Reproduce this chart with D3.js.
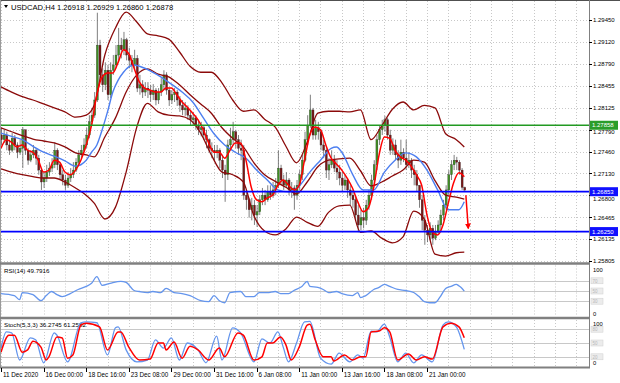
<!DOCTYPE html>
<meta charset="utf-8">
<title>USDCAD,H4</title>
<style>

body {
  margin: 0;
  background: #fff;
}

svg {
  display: block;
  font-family: "Liberation Sans", Arial, sans-serif;
}

</style>
<body>
<script src="https://cdn.jsdelivr.net/npm/d3@7"></script>
<script>

// ---- data ----
var header = "USDCAD,H4 1.26918 1.26929 1.26860 1.26878";
var firstOpen = 1.2771;

var closes = [1.2764,1.2771,1.2756,1.2748,1.2766,1.2756,1.2745,1.2751,1.2779,1.2748,
  1.2733,1.2741,1.2748,1.2736,1.2718,1.2700,1.2706,1.2715,1.2721,1.2726,
  1.2748,1.2726,1.2711,1.2703,1.2695,1.2706,1.2711,1.2718,1.2730,1.2741,
  1.2748,1.2756,1.2771,1.2791,1.2801,1.2824,1.2907,1.2862,1.2847,1.2869,
  1.2832,1.2869,1.2877,1.2892,1.2907,1.2900,1.2915,1.2892,1.2884,1.2877,
  1.2887,1.2842,1.2847,1.2836,1.2842,1.2839,1.2832,1.2839,1.2824,1.2836,
  1.2847,1.2862,1.2839,1.2824,1.2832,1.2836,1.2824,1.2816,1.2809,1.2812,
  1.2801,1.2794,1.2797,1.2786,1.2779,1.2782,1.2771,1.2764,1.2751,1.2748,
  1.2745,1.2748,1.2733,1.2718,1.2711,1.2756,1.2764,1.2776,1.2764,1.2751,
  1.2748,1.2680,1.2673,1.2658,1.2665,1.2650,1.2655,1.2673,1.2680,1.2673,
  1.2685,1.2680,1.2688,1.2695,1.2721,1.2703,1.2695,1.2703,1.2688,1.2691,
  1.2680,1.2695,1.2711,1.2733,1.2764,1.2786,1.2809,1.2771,1.2782,1.2776,
  1.2756,1.2748,1.2718,1.2726,1.2733,1.2721,1.2715,1.2706,1.2695,1.2703,
  1.2688,1.2680,1.2673,1.2650,1.2635,1.2646,1.2642,1.2665,1.2680,1.2703,
  1.2726,1.2764,1.2779,1.2786,1.2794,1.2771,1.2748,1.2756,1.2741,1.2733,
  1.2745,1.2736,1.2726,1.2733,1.2718,1.2711,1.2695,1.2673,1.2642,1.2627,
  1.2620,1.2630,1.2615,1.2624,1.2635,1.2650,1.2665,1.2688,1.2711,1.2726,
  1.2733,1.2730,1.2718,1.26918,1.26878];

var highs = [1.2782,1.2779,1.2776,1.2764,1.2774,1.2771,1.2760,1.2764,1.2783,1.2776,
  1.2751,1.2748,1.2756,1.2751,1.2741,1.2721,1.2715,1.2726,1.2730,1.2736,
  1.2760,1.2751,1.2730,1.2718,1.2711,1.2715,1.2721,1.2730,1.2736,1.2748,
  1.2756,1.2766,1.2782,1.2801,1.2812,1.2836,1.2956,1.2915,1.2872,1.2881,
  1.2877,1.2881,1.2892,1.2907,1.2933,1.2918,1.2927,1.2918,1.2903,1.2892,
  1.2900,1.2892,1.2862,1.2854,1.2851,1.2851,1.2847,1.2848,1.2842,1.2842,
  1.2857,1.2869,1.2866,1.2842,1.2839,1.2842,1.2839,1.2830,1.2824,1.2821,
  1.2816,1.2809,1.2806,1.2801,1.2794,1.2791,1.2786,1.2779,1.2766,1.2760,
  1.2756,1.2756,1.2751,1.2741,1.2726,1.2764,1.2782,1.2791,1.2779,1.2771,
  1.2764,1.2756,1.2688,1.2676,1.2676,1.2673,1.2665,1.2680,1.2691,1.2688,
  1.2695,1.2695,1.2700,1.2706,1.2748,1.2726,1.2711,1.2715,1.2706,1.2700,
  1.2695,1.2703,1.2718,1.2741,1.2776,1.2801,1.2832,1.2812,1.2794,1.2791,
  1.2779,1.2764,1.2751,1.2736,1.2748,1.2741,1.2733,1.2726,1.2715,1.2711,
  1.2706,1.2695,1.2688,1.2680,1.2665,1.2658,1.2661,1.2673,1.2688,1.2711,
  1.2733,1.2771,1.2786,1.2794,1.2800,1.2797,1.2779,1.2766,1.2764,1.2748,
  1.2764,1.2751,1.2764,1.2745,1.2736,1.2726,1.2718,1.2695,1.2680,1.2650,
  1.2635,1.2639,1.2635,1.2635,1.2642,1.2658,1.2673,1.2695,1.2718,1.2733,
  1.2741,1.2738,1.2733,1.2721,1.26929];

var lows = [1.2756,1.2759,1.2748,1.2741,1.2745,1.2748,1.2736,1.2741,1.2721,1.2741,
  1.2726,1.2730,1.2736,1.2726,1.2711,1.2688,1.2691,1.2700,1.2709,1.2715,
  1.2721,1.2718,1.2703,1.2695,1.2688,1.2691,1.2700,1.2706,1.2715,1.2726,
  1.2736,1.2745,1.2751,1.2766,1.2786,1.2797,1.2821,1.2854,1.2836,1.2839,
  1.2824,1.2827,1.2862,1.2872,1.2884,1.2887,1.2892,1.2884,1.2872,1.2866,
  1.2869,1.2836,1.2832,1.2827,1.2830,1.2827,1.2821,1.2824,1.2816,1.2818,
  1.2830,1.2839,1.2832,1.2815,1.2818,1.2821,1.2815,1.2806,1.2801,1.2800,
  1.2794,1.2786,1.2785,1.2779,1.2771,1.2769,1.2764,1.2751,1.2745,1.2736,
  1.2733,1.2736,1.2721,1.2706,1.2670,1.2703,1.2748,1.2756,1.2751,1.2741,
  1.2733,1.2673,1.2658,1.2646,1.2642,1.2635,1.2632,1.2650,1.2665,1.2665,
  1.2670,1.2673,1.2676,1.2680,1.2691,1.2695,1.2688,1.2691,1.2680,1.2676,
  1.2658,1.2673,1.2688,1.2703,1.2730,1.2756,1.2782,1.2764,1.2764,1.2764,
  1.2748,1.2736,1.2706,1.2703,1.2721,1.2715,1.2703,1.2695,1.2685,1.2688,
  1.2676,1.2665,1.2661,1.2642,1.2624,1.2627,1.2630,1.2635,1.2658,1.2673,
  1.2695,1.2718,1.2756,1.2771,1.2776,1.2764,1.2741,1.2741,1.2733,1.2721,
  1.2726,1.2730,1.2718,1.2721,1.2706,1.2695,1.2685,1.2661,1.2627,1.2605,
  1.2609,1.2612,1.2605,1.2612,1.2620,1.2627,1.2642,1.2658,1.2680,1.2703,
  1.2718,1.2718,1.2711,1.2688,1.26860];

// moving averages and bands: [bar, price]
var redMA = [[0,1.2751],[2,1.2764],[4,1.2760],[6,1.2753],[8,1.2756],[10,1.2748],[12,1.2745],[14,1.2733],
  [16,1.2715],[18,1.2718],[20,1.2733],[22,1.2730],[24,1.2715],[26,1.2711],[28,1.2718],[30,1.2733],
  [32,1.2756],[34,1.2786],[36,1.2832],[38,1.2859],[40,1.2865],[42,1.2865],[44,1.2881],[46,1.2900],
  [48,1.2894],[50,1.2872],[52,1.2851],[54,1.2842],[56,1.2839],[58,1.2836],[60,1.2836],[62,1.2842],
  [64,1.2842],[66,1.2832],[68,1.2821],[70,1.2813],[72,1.2804],[74,1.2794],[76,1.2779],[78,1.2759],
  [80,1.2745],[82,1.2745],[84,1.2736],[86,1.2748],[88,1.2759],[90,1.2759],[92,1.2733],[94,1.2692],
  [96,1.2673],[98,1.2670],[100,1.2676],[102,1.2680],[104,1.2695],[106,1.2703],[108,1.2695],[110,1.2688],
  [112,1.2695],[114,1.2733],[116,1.2771],[118,1.2783],[120,1.2779],[122,1.2756],[124,1.2736],[126,1.2727],
  [128,1.2718],[130,1.2706],[132,1.2691],[134,1.2670],[136,1.2655],[138,1.2661],[140,1.2692],[142,1.2741],
  [144,1.2768],[146,1.2766],[148,1.2748],[150,1.2738],[152,1.2733],[154,1.2724],[156,1.2711],[158,1.2695],
  [160,1.2650],[162,1.2624],[164,1.2620],[166,1.2635],[168,1.2668],[170,1.2699],[172,1.2714],[174,1.2708]];

var blueMA = [[0,1.2774],[4,1.2769],[8,1.2764],[12,1.2754],[16,1.2745],[20,1.2739],[24,1.2732],[28,1.2724],
  [32,1.2733],[34,1.2745],[36,1.2756],[38,1.2779],[40,1.2806],[42,1.2836],[44,1.2854],[46,1.2866],
  [48,1.2874],[50,1.2877],[52,1.2875],[54,1.2872],[56,1.2868],[60,1.2859],[64,1.2848],[68,1.2836],
  [72,1.2821],[76,1.2797],[80,1.2773],[84,1.2756],[88,1.2745],[92,1.2736],[96,1.2718],[100,1.2703],
  [104,1.2688],[108,1.2685],[112,1.2694],[116,1.2715],[120,1.2733],[124,1.2751],[126,1.2753],[128,1.2745],
  [132,1.2712],[136,1.2688],[140,1.2688],[144,1.2715],[148,1.2733],[152,1.2744],[156,1.2738],[160,1.2718],
  [164,1.2688],[168,1.2658],[172,1.2658],[174,1.2670]];

var bbUpper = [[0,1.2844],[4,1.2836],[8,1.2829],[12,1.2824],[16,1.2818],[20,1.2812],[24,1.2806],[28,1.2798],
  [32,1.2801],[35,1.2816],[39,1.2892],[43,1.2933],[47,1.2957],[51,1.2942],[55,1.2924],[59,1.2921],
  [63,1.2916],[67,1.2897],[71,1.2875],[75,1.2866],[79,1.2866],[83,1.2850],[87,1.2824],[91,1.2807],
  [95,1.2809],[99,1.2795],[103,1.2783],[107,1.2754],[111,1.2729],[115,1.2760],[119,1.2804],[123,1.2807],
  [127,1.2807],[131,1.2806],[135,1.2809],[139,1.2764],[143,1.2785],[147,1.2810],[151,1.2821],[155,1.2809],
  [159,1.2816],[163,1.2812],[167,1.2773],[171,1.2764],[174,1.2753]];

var bbMiddle = [[0,1.2782],[4,1.2776],[8,1.2770],[12,1.2765],[16,1.2762],[20,1.2759],[24,1.2753],[28,1.2744],
  [32,1.2741],[35,1.2738],[39,1.2768],[43,1.2797],[47,1.2836],[51,1.2862],[55,1.2871],[59,1.2863],
  [63,1.2859],[67,1.2847],[71,1.2832],[75,1.2818],[79,1.2804],[83,1.2782],[87,1.2766],[91,1.2753],
  [95,1.2729],[99,1.2711],[103,1.2701],[107,1.2692],[111,1.2682],[115,1.2700],[119,1.2723],[123,1.2733],
  [127,1.2735],[131,1.2736],[135,1.2717],[139,1.2694],[143,1.2700],[147,1.2709],[151,1.2718],[155,1.2733],
  [159,1.2730],[163,1.2702],[167,1.2680],[171,1.2677],[174,1.2674]];

var bbLower = [[0,1.2720],[4,1.2715],[8,1.2711],[12,1.2708],[16,1.2706],[20,1.2706],[24,1.2700],[28,1.2691],
  [32,1.2680],[35,1.2668],[39,1.2644],[43,1.2662],[47,1.2715],[51,1.2783],[55,1.2819],[59,1.2806],
  [63,1.2801],[67,1.2800],[71,1.2794],[75,1.2774],[79,1.2741],[83,1.2715],[87,1.2711],[91,1.2700],
  [95,1.2649],[99,1.2626],[103,1.2620],[107,1.2629],[111,1.2647],[115,1.2639],[119,1.2633],[123,1.2654],
  [127,1.2664],[131,1.2665],[135,1.2624],[139,1.2626],[143,1.2615],[147,1.2608],[151,1.2617],[155,1.2656],
  [159,1.2644],[163,1.2591],[167,1.2588],[171,1.2593],[174,1.2594]];

// oscillators: [bar, value]
var rsi = [[0,45],[5,41],[7,33],[8,47],[12,43],[15,31],[17,41],[19,49],[21,43],[23,39],[26,45],[29,53],
  [32,59],[34,65],[36,78],[38,61],[41,65],[45,69],[47,67],[50,51],[52,49],[55,47],[57,49],[60,47],
  [62,55],[65,47],[68,45],[71,41],[75,31],[78,29],[80,41],[82,31],[84,27],[86,47],[90,49],[92,39],
  [95,39],[97,47],[100,47],[103,49],[105,45],[108,45],[110,51],[113,59],[115,69],[116,59],[119,57],
  [121,53],[123,47],[126,49],[128,45],[132,41],[134,47],[135,37],[137,41],[140,53],[142,57],[144,63],
  [146,59],[149,53],[152,51],[155,47],[157,39],[159,29],[161,27],[163,27],[165,39],[167,55],[169,59],
  [171,63],[172,60],[173,56],[174,49.7916]];

var stochK = [[0,39],[2,74],[4,72],[7,13],[11,61],[13,57],[16,7],[20,72],[21,67],[25,9],[30,94],[32,96],
  [36,94],[40,24],[43,83],[44,85],[47,35],[51,9],[55,13],[58,57],[61,39],[64,61],[67,13],[70,50],
  [74,35],[77,7],[81,65],[83,13],[87,83],[90,72],[95,9],[98,59],[101,50],[104,74],[106,41],[108,9],
  [111,50],[114,96],[116,97],[120,17],[124,4],[127,28],[131,9],[134,24],[136,17],[139,76],[141,74],
  [144,91],[146,63],[149,9],[152,28],[155,7],[158,24],[162,9],[166,89],[168,96],[171,85],[174,36.2745]];

var stochD = [[0,30],[3,67],[5,67],[8,30],[10,35],[12,54],[15,41],[17,13],[18,20],[21,63],[23,61],[25,17],
  [27,24],[30,89],[32,93],[37,85],[40,35],[44,74],[45,74],[48,41],[52,13],[56,15],[59,50],[61,50],
  [62,35],[65,52],[68,17],[71,43],[74,35],[78,13],[82,39],[84,20],[89,72],[91,67],[95,13],[98,20],
  [100,50],[102,50],[105,63],[107,46],[109,13],[112,41],[115,89],[116,91],[118,57],[121,20],[124,20],
  [125,11],[129,24],[132,13],[135,20],[137,20],[139,74],[142,76],[144,83],[146,74],[149,13],[153,26],
  [156,13],[159,20],[162,15],[166,85],[169,93],[172,85],[174,61.2582]];

var priceTicks = [1.29450,1.29120,1.28790,1.28455,1.28125,1.27790,1.27460,1.27130,1.26800,1.26465,1.26135,1.25805];
var greenLevel = 1.27858;
var blueLevels = [1.26853, 1.26250];
var arrowBars = [174.6, 175.5];
var arrowPrices = [1.2680, 1.2630];

var timeLabels = ["11 Dec 2020","16 Dec 00:00","18 Dec 16:00","23 Dec 08:00","29 Dec 00:00","31 Dec 16:00",
  "6 Jan 08:00","11 Jan 00:00","13 Jan 16:00","18 Jan 08:00","21 Jan 00:00"];
var timeLabelBars = [0,16,32,48,64,80,96,112,128,144,160];

var rsiLevels = [70, 50, 30];
var stochLevels = [80, 50, 20];

// ---- layout ----
var w = 620, h = 383, right = 589;

var x = d3.scaleLinear().domain([0, 220]).range([1, 1 + 220 * 2.6625]);
var y = d3.scaleLinear().domain([1.25805, 1.29450]).range([261, 20]);
var yR = d3.scaleLinear().domain([0, 100]).range([316.5, 265.5]);
var yS = d3.scaleLinear().domain([0, 100]).range([366, 320]);

var svg = d3.select("body").append("svg")
    .attr("width", w)
    .attr("height", h);

svg.append("rect").attr("width", w).attr("height", h).attr("fill", "#fff");

var panels = [[1, 262], [265.5, 316.5], [320, 366]];

svg.append("defs").append("clipPath").attr("id", "main")
  .append("rect").attr("x", 0).attr("y", 1).attr("width", right).attr("height", 261);

// vertical grid in every panel
var gridBars = d3.range(0, 221, 8).filter(function (b) { return x(b) < right - 2; });
panels.forEach(function (p) {
  svg.append("g").selectAll("line")
      .data(gridBars)
    .enter().append("line")
      .attr("x1", function (d) { return Math.round(x(d)) + 0.5; })
      .attr("x2", function (d) { return Math.round(x(d)) + 0.5; })
      .attr("y1", p[0])
      .attr("y2", p[1])
      .attr("stroke", "#c8c8c8")
      .attr("stroke-dasharray", "1,2");
});

// horizontal price grid
svg.append("g").selectAll("line")
    .data(priceTicks)
  .enter().append("line")
    .attr("x1", 1)
    .attr("x2", right)
    .attr("y1", function (d) { return Math.round(y(d)) + 0.5; })
    .attr("y2", function (d) { return Math.round(y(d)) + 0.5; })
    .attr("stroke", "#c8c8c8")
    .attr("stroke-dasharray", "1,2");

// oscillator level lines
svg.append("g").selectAll("line")
    .data(rsiLevels)
  .enter().append("line")
    .attr("x1", 1).attr("x2", right)
    .attr("y1", function (d) { return Math.round(yR(d)) + 0.5; })
    .attr("y2", function (d) { return Math.round(yR(d)) + 0.5; })
    .attr("stroke", "#c8c8c8");

svg.append("g").selectAll("line")
    .data(stochLevels)
  .enter().append("line")
    .attr("x1", 1).attr("x2", right)
    .attr("y1", function (d) { return Math.round(yS(d)) + 0.5; })
    .attr("y2", function (d) { return Math.round(yS(d)) + 0.5; })
    .attr("stroke", "#c8c8c8");

// candles
var bars = closes.map(function (c, i) {
  var o = i ? closes[i - 1] : firstOpen;
  return {i: i, o: o, c: c, h: Math.max(highs[i], o, c), l: Math.min(lows[i], o, c)};
});

var main = svg.append("g").attr("clip-path", "url(#main)");

var candle = main.append("g").selectAll("g")
    .data(bars)
  .enter().append("g");

candle.append("line")
    .attr("x1", function (d) { return x(d.i) + 0.5; })
    .attr("x2", function (d) { return x(d.i) + 0.5; })
    .attr("y1", function (d) { return y(d.h); })
    .attr("y2", function (d) { return y(d.l); })
    .attr("stroke", "#5e5e5e")
    .attr("stroke-width", 0.8);

candle.append("rect")
    .attr("x", function (d) { return x(d.i) - 0.5; })
    .attr("width", 2)
    .attr("y", function (d) { return y(Math.max(d.o, d.c)); })
    .attr("height", function (d) { return Math.max(0.8, Math.abs(y(d.o) - y(d.c))); })
    .attr("fill", function (d) { return d.c >= d.o ? "#3f8f22" : "#7a1616"; })
    .attr("stroke", "#2b2b2b")
    .attr("stroke-width", 0.3);

// indicator lines
function path(g, data, ys, color, width) {
  g.append("path")
      .datum(data)
      .attr("fill", "none")
      .attr("stroke", color)
      .attr("stroke-width", width)
      .attr("stroke-linejoin", "round")
      .attr("d", d3.line()
          .x(function (d) { return x(d[0]); })
          .y(function (d) { return ys(d[1]); })
          .curve(d3.curveMonotoneX));
}

path(main, bbUpper, y, "#8b0a0a", 1.3);
path(main, bbMiddle, y, "#8b0a0a", 1.3);
path(main, bbLower, y, "#8b0a0a", 1.3);
path(main, blueMA, y, "#4d7ff0", 1.4);
path(main, redMA, y, "#ff0000", 1.5);

// horizontal levels
main.append("line")
    .attr("x1", 0).attr("x2", right)
    .attr("y1", y(greenLevel)).attr("y2", y(greenLevel))
    .attr("stroke", "#229a22")
    .attr("stroke-width", 1.4);

main.selectAll(".lvl")
    .data(blueLevels)
  .enter().append("line")
    .attr("x1", 0).attr("x2", right)
    .attr("y1", function (d) { return y(d); })
    .attr("y2", function (d) { return y(d); })
    .attr("stroke", "#0000ff")
    .attr("stroke-width", 1.8);

// down arrow
svg.append("defs").append("marker")
    .attr("id", "head")
    .attr("viewBox", "0 0 10 10")
    .attr("refX", 8).attr("refY", 5)
    .attr("markerWidth", 4).attr("markerHeight", 4)
    .attr("orient", "auto")
  .append("path")
    .attr("d", "M0,0L10,5L0,10z")
    .attr("fill", "#ff0000");

main.append("line")
    .attr("x1", x(arrowBars[0])).attr("y1", y(arrowPrices[0]))
    .attr("x2", x(arrowBars[1])).attr("y2", y(arrowPrices[1]))
    .attr("stroke", "#ff0000")
    .attr("stroke-width", 1.5)
    .attr("marker-end", "url(#head)");

// oscillator panels
svg.append("text").attr("x", 4).attr("y", 272.5)
    .attr("font-size", 6.2).text("RSI(14) 49.7916");
svg.append("text").attr("x", 4).attr("y", 327)
    .attr("font-size", 6.2).text("Stoch(5,3,3) 36.2745 61.2582");

path(svg, rsi, yR, "#6495ed", 1.3);
path(svg, stochK, yS, "#6495ed", 1.3);
path(svg, stochD, yS, "#ff0000", 1.5);

// frames
svg.append("line").attr("x1", 0).attr("x2", w).attr("y1", 0.5).attr("y2", 0.5)
    .attr("stroke", "#505050");
svg.append("line").attr("x1", 0.5).attr("x2", 0.5).attr("y1", 0).attr("y2", 367)
    .attr("stroke", "#9a9a9a");
svg.append("line").attr("x1", right + 0.5).attr("x2", right + 0.5).attr("y1", 0).attr("y2", 368)
    .attr("stroke", "#808080");
[263.5, 318, 367.5].forEach(function (yy, k) {
  svg.append("line").attr("x1", 0).attr("x2", right + 1).attr("y1", yy).attr("y2", yy)
      .attr("stroke", "#808080").attr("stroke-width", k === 2 ? 2 : 2.6);
});

// header
svg.append("path").attr("d", "M4,5L8,5L6,8z").attr("fill", "#000");
svg.append("text").attr("x", 11).attr("y", 9.5)
    .attr("font-size", 7.6).text(header);

// price axis; a label sitting under a level tag peeks out just below it
var tagPrices = [greenLevel].concat(blueLevels);
function labelY(p) {
  var base = y(p) + 2.2;
  tagPrices.forEach(function (l) {
    if (Math.abs(y(p) - y(l)) < 7) base = Math.max(base, y(l) + 9.2);
  });
  return base;
}
var axis = svg.append("g").attr("font-size", 6);
axis.selectAll("line")
    .data(priceTicks)
  .enter().append("line")
    .attr("x1", right).attr("x2", right + 3)
    .attr("y1", function (d) { return Math.round(y(d)) + 0.5; })
    .attr("y2", function (d) { return Math.round(y(d)) + 0.5; })
    .attr("stroke", "#000");
axis.selectAll("text")
    .data(priceTicks)
  .enter().append("text")
    .attr("x", right + 4)
    .attr("y", labelY)
    .text(function (d) { return d.toFixed(5); });

function tag(price, color) {
  var g = svg.append("g").attr("font-size", 6);
  g.append("rect").attr("x", right + 1).attr("y", y(price) - 4.5)
      .attr("width", 28).attr("height", 9).attr("fill", color);
  g.append("text").attr("x", right + 3).attr("y", y(price) + 2.2)
      .attr("fill", "#fff").text(price.toFixed(5));
}
tag(greenLevel, "#2a9d2a");
blueLevels.forEach(function (p) { tag(p, "#1010ff"); });

// oscillator scales
function oscScale(ys, levels, top, bottom) {
  var g = svg.append("g").attr("font-size", 5.8);
  g.append("text").attr("x", right + 4).attr("y", top).text("100");
  levels.forEach(function (v) {
    g.append("rect").attr("x", right + 2).attr("y", ys(v) - 3)
        .attr("width", 12).attr("height", 6)
        .attr("fill", "#ececec").attr("stroke", "#d0d0d0").attr("stroke-width", 0.5);
    g.append("text").attr("x", right + 3.5).attr("y", ys(v) + 2)
        .attr("font-size", 4.5).attr("fill", "#b8b8b8").text(v);
  });
  g.append("text").attr("x", right + 4).attr("y", bottom).text("0");
}
oscScale(yR, rsiLevels, 272, 315.5);
oscScale(yS, stochLevels, 326, 364.5);

// time axis
var ta = svg.append("g").attr("font-size", 6.3);
ta.selectAll("line")
    .data(timeLabelBars)
  .enter().append("line")
    .attr("x1", function (d) { return Math.round(x(d)) + 0.5; })
    .attr("x2", function (d) { return Math.round(x(d)) + 0.5; })
    .attr("y1", 368).attr("y2", 372)
    .attr("stroke", "#000");
ta.selectAll("text")
    .data(timeLabelBars)
  .enter().append("text")
    .attr("x", function (d) { return x(d) + 2; })
    .attr("y", 377)
    .text(function (d, i) { return timeLabels[i]; });

</script>
